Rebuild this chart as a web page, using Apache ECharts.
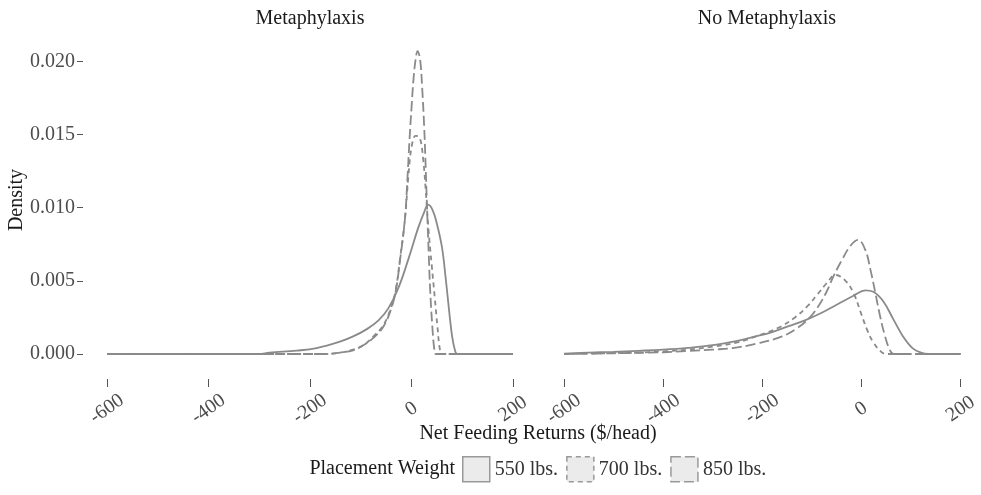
<!DOCTYPE html>
<html>
<head>
<meta charset="utf-8">
<title>Net Feeding Returns density</title>
<script src="https://cdn.jsdelivr.net/npm/echarts@6.0.0/dist/echarts.min.js"></script>
<style>
  html, body { margin: 0; padding: 0; background: #fff; }
  #chart { width: 981px; height: 495px; }
</style>
</head>
<body>
<div id="chart"></div>
<script>
// tick values
var xTicks = [-600, -400, -200, 0, 200]
var yTicks = [0, 0.005, 0.01, 0.015, 0.02]
var panels = ['Metaphylaxis', 'No Metaphylaxis']
var weights = ['550 lbs.', '700 lbs.', '850 lbs.']

// Metaphylaxis panel: [net return, density]
var meta550 = [[-600, 0], [-300, 0], [-280, 0.0001], [-226, 0.00023], [-187, 0.0004], [-141, 0.00084],
  [-115, 0.0012], [-88, 0.0017], [-65, 0.0023], [-46, 0.0031], [-26, 0.0045],
  [-6, 0.0065], [13, 0.0086], [25, 0.0097], [33, 0.0102], [42, 0.0098], [50, 0.0089], [60, 0.0073],
  [67, 0.0053], [74, 0.003], [80, 0.0012], [86, 0.0002], [90, 0], [200, 0]]
var meta700 = [[-600, 0], [-170, 0], [-141, 0.0001], [-115, 0.0003], [-95, 0.0006], [-75, 0.0012],
  [-55, 0.0020], [-40, 0.0032], [-31, 0.0044], [-23, 0.0064], [-13, 0.0092], [-6, 0.0122],
  [0, 0.0141], [8, 0.0149], [16, 0.0148], [23, 0.0133], [28, 0.0112], [33, 0.0087], [40, 0.0060],
  [46, 0.0038], [51, 0.0019], [56, 0.0003], [60, 0], [200, 0]]
var meta850 = [[-600, 0], [-170, 0], [-141, 0.0001], [-115, 0.00025], [-95, 0.0006], [-75, 0.0011],
  [-55, 0.0019], [-40, 0.0031], [-31, 0.0043], [-23, 0.0063], [-13, 0.0092], [-8, 0.0120],
  [-4, 0.0146], [0, 0.0168], [4, 0.0188], [8, 0.0201], [12, 0.0207], [17, 0.0201], [21, 0.0182],
  [25, 0.0155], [28, 0.0127], [31, 0.0096], [34, 0.0068], [37, 0.0042], [41, 0.0019], [45, 0.0003],
  [48, 0], [200, 0]]

// No Metaphylaxis panel
var noMeta550 = [[-600, 0.00003], [-550, 0.0001], [-500, 0.00015], [-450, 0.00022], [-400, 0.0003],
  [-350, 0.00042], [-300, 0.0006], [-250, 0.0009], [-213, 0.0012], [-180, 0.0015], [-147, 0.0019],
  [-114, 0.0023], [-81, 0.0028], [-48, 0.0034], [-15, 0.0040], [8, 0.00435], [24, 0.00425],
  [44, 0.0036], [64, 0.0024], [84, 0.0012], [103, 0.0004], [120, 0.0001], [135, 0], [200, 0]]
var noMeta700 = [[-600, 0], [-520, 0.00005], [-450, 0.0001], [-400, 0.00018], [-350, 0.0003],
  [-300, 0.0005], [-250, 0.0008], [-213, 0.0012], [-167, 0.0018], [-134, 0.0025],
  [-108, 0.0033], [-88, 0.0041], [-71, 0.0048], [-52, 0.0054], [-32, 0.0050], [-15, 0.0041],
  [-2, 0.0029], [11, 0.0017], [24, 0.0008], [40, 0.00015], [50, 0], [200, 0]]
var noMeta850 = [[-600, 0], [-500, 0.00005], [-400, 0.00012], [-350, 0.0002], [-300, 0.0003],
  [-260, 0.0004], [-213, 0.0007], [-160, 0.0012], [-128, 0.0018], [-104, 0.0025],
  [-88, 0.0032], [-71, 0.0042], [-55, 0.0054], [-38, 0.0065], [-22, 0.0074], [-7, 0.0078],
  [8, 0.0071], [18, 0.0058], [28, 0.0042], [37, 0.0027], [47, 0.0013], [57, 0.0003], [65, 0], [200, 0]]

var FONT = '"Liberation Serif", "DejaVu Serif", serif'
var LINE = '#8a8a8a'
var dashes = ['solid', [5, 4], [10, 4]]

var chart = echarts.init(document.getElementById('chart'))

function xAxisFor (idx) {
  return {
    type: 'value',
    gridIndex: idx,
    min: -600,
    max: 200,
    offset: 25,
    axisLine: { show: false, onZero: false },
    splitLine: { show: false },
    axisTick: { show: true, length: 8, customValues: xTicks, lineStyle: { color: '#555', width: 1 } },
    axisLabel: {
      customValues: xTicks,
      rotate: 35,
      align: 'center',
      verticalAlign: 'middle',
      margin: 30,
      fontFamily: FONT,
      fontSize: 20,
      color: '#4d4d4d'
    }
  }
}

function yAxisFor (idx) {
  return {
    type: 'value',
    gridIndex: idx,
    min: 0,
    max: 0.022,
    offset: 24,
    axisLine: { show: false, onZero: false },
    splitLine: { show: false },
    axisTick: { show: idx === 0, length: 6, customValues: yTicks, lineStyle: { color: '#555', width: 1 } },
    axisLabel: {
      show: idx === 0,
      customValues: yTicks,
      margin: 8,
      fontFamily: FONT,
      fontSize: 20,
      color: '#4d4d4d',
      formatter: function (v) { return v.toFixed(3) }
    }
  }
}

function lineSeries (name, idx, data, k) {
  return {
    name: name,
    type: 'line',
    xAxisIndex: idx,
    yAxisIndex: idx,
    data: data,
    smooth: 0.4,
    showSymbol: false,
    silent: true,
    color: LINE,
    lineStyle: { color: LINE, width: 1.8, type: dashes[k] }
  }
}

var option = {
  animation: false,
  backgroundColor: '#fff',
  grid: [
    { left: 107, top: 32, width: 406, height: 322 },
    { left: 564, top: 32, width: 405, height: 322 }
  ],
  xAxis: [xAxisFor(0), xAxisFor(1)],
  yAxis: [yAxisFor(0), yAxisFor(1)],
  legend: {
    left: 462,
    top: 456,
    padding: 0,
    icon: 'rect',
    itemWidth: 27,
    itemHeight: 25,
    itemGap: 8,
    selectedMode: false,
    textStyle: { fontFamily: FONT, fontSize: 20, color: '#333' },
    data: weights.map(function (w, k) {
      return {
        name: w,
        itemStyle: { color: '#ebebeb', borderColor: '#999', borderWidth: 1.5, borderType: dashes[k] }
      }
    })
  },
  graphic: [
    { type: 'text', style: { text: panels[0], font: '20px ' + FONT, fill: '#1a1a1a', align: 'center', verticalAlign: 'middle' }, x: 310, y: 19 },
    { type: 'text', style: { text: panels[1], font: '20px ' + FONT, fill: '#1a1a1a', align: 'center', verticalAlign: 'middle' }, x: 767, y: 19 },
    { type: 'text', style: { text: 'Net Feeding Returns ($/head)', font: '20px ' + FONT, fill: '#1a1a1a', align: 'center', verticalAlign: 'middle' }, x: 538, y: 434 },
    { type: 'text', style: { text: 'Density', font: '20px ' + FONT, fill: '#1a1a1a', align: 'center', verticalAlign: 'middle' }, x: 17, y: 200, rotation: Math.PI / 2 },
    { type: 'text', style: { text: 'Placement Weight', font: '20px ' + FONT, fill: '#1a1a1a', align: 'right', verticalAlign: 'middle' }, x: 455, y: 469 }
  ],
  series: [
    lineSeries(weights[0], 0, meta550, 0),
    lineSeries(weights[1], 0, meta700, 1),
    lineSeries(weights[2], 0, meta850, 2),
    lineSeries(weights[0], 1, noMeta550, 0),
    lineSeries(weights[1], 1, noMeta700, 1),
    lineSeries(weights[2], 1, noMeta850, 2)
  ]
}

chart.setOption(option)
</script>
</body>
</html>
